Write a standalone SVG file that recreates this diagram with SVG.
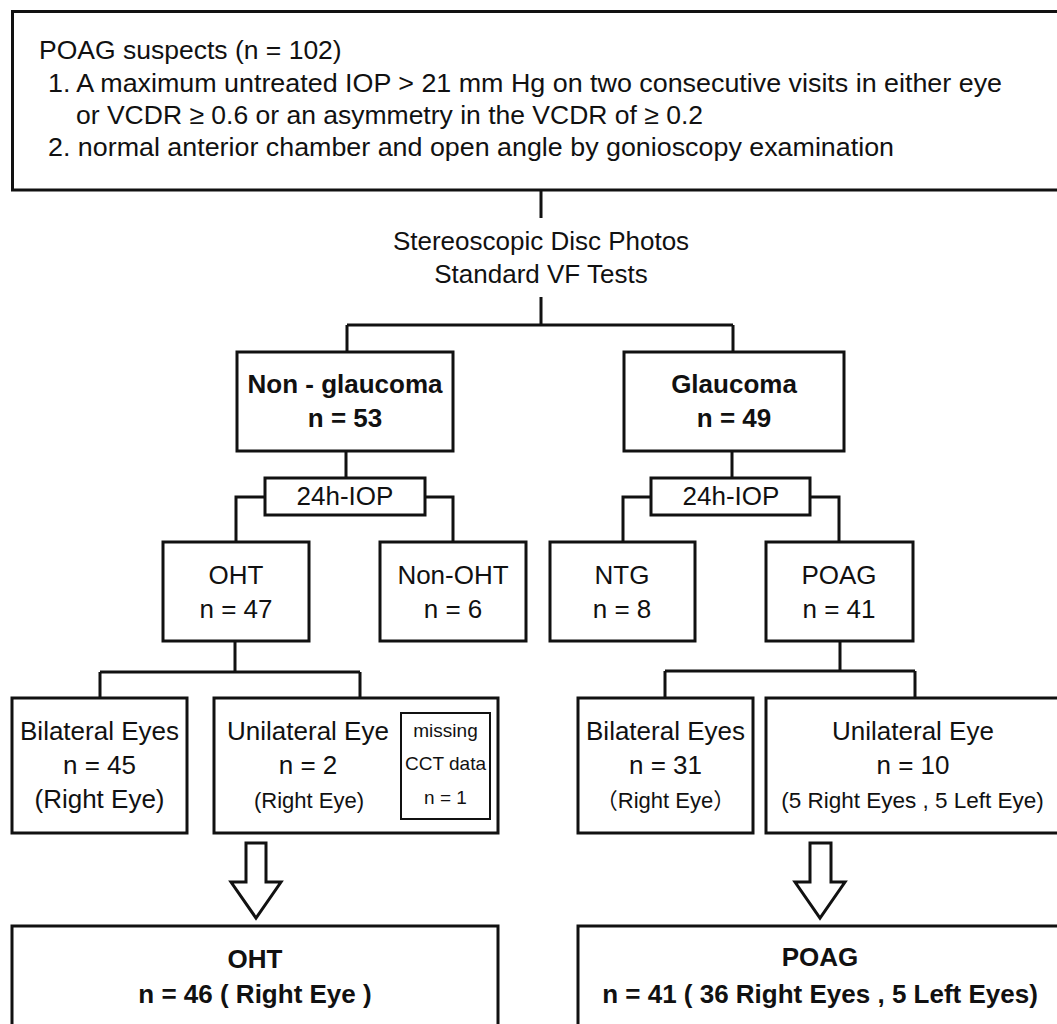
<svg xmlns="http://www.w3.org/2000/svg" width="1057" height="1024" viewBox="0 0 1057 1024">
<style>
.box{fill:#fff;stroke:#111;stroke-width:3}
.thin{fill:#fff;stroke:#111;stroke-width:2}
.con{fill:none;stroke:#111;stroke-width:3}
.arr{fill:#fff;stroke:#111;stroke-width:3;stroke-linejoin:miter}
text{font-family:"Liberation Sans",Arial,"Noto Sans CJK SC",sans-serif;fill:#111}
.t{font-size:26px;text-anchor:middle}
.b{font-size:26px;text-anchor:middle;font-weight:bold}
.s{font-size:22px;text-anchor:middle}
.xs{font-size:19px;text-anchor:middle}
.top{font-size:26.5px}
</style>
<rect width="1057" height="1024" fill="#fff"/>
<g id="connectors">
<path class="con" d="M541,190V218M541,297V325M347,325H733M347,325V352M733,325V352"/>
<path class="con" d="M346,451V478M732,451V478"/>
<path class="con" d="M265,497H236V542M425,497H453V542M651,497H623V542M810,497H839V542"/>
<path class="con" d="M235,641V672M100,672H360M100,672V698M360,672V698"/>
<path class="con" d="M840,641V671M665,671H915M665,671V698M915,671V698"/>
<polygon class="arr" points="246,843 266,843 266,882 281,882 256,918 231,882 246,882"/>
<polygon class="arr" points="810,843 831,843 831,882 845,882 820,918 795,882 810,882"/>
</g>
<g id="suspects">
<rect class="box" x="12.5" y="11.5" width="1050" height="178.5"/>
<text class="top" x="39" y="59">POAG suspects (n = 102)</text>
<text class="top" x="48" y="92" textLength="954" lengthAdjust="spacingAndGlyphs">1. A maximum untreated IOP &gt; 21 mm Hg on two consecutive visits in either eye</text>
<text class="top" x="76" y="124">or VCDR ≥ 0.6 or an asymmetry in the VCDR of ≥ 0.2</text>
<text class="top" x="48" y="156" textLength="846" lengthAdjust="spacingAndGlyphs">2. normal anterior chamber and open angle by gonioscopy examination</text>
</g>
<g id="tests">
<text class="t" x="541" y="250">Stereoscopic Disc Photos</text>
<text class="t" x="541" y="283">Standard VF Tests</text>
</g>
<g id="nonglaucoma">
<rect class="box" x="237" y="352" width="216" height="99"/>
<text class="b" x="345" y="393">Non - glaucoma</text>
<text class="b" x="345" y="427">n = 53</text>
</g>
<g id="glaucoma">
<rect class="box" x="624" y="352" width="220" height="99"/>
<text class="b" x="734" y="393">Glaucoma</text>
<text class="b" x="734" y="427">n = 49</text>
</g>
<g id="iop1">
<rect class="box" x="265" y="478" width="160" height="37"/>
<text class="t" x="345" y="505">24h-IOP</text>
</g>
<g id="iop2">
<rect class="box" x="651" y="478" width="159" height="37"/>
<text class="t" x="731" y="505">24h-IOP</text>
</g>
<g id="oht">
<rect class="box" x="163" y="542" width="146" height="99"/>
<text class="t" x="236" y="584">OHT</text>
<text class="t" x="236" y="618">n = 47</text>
</g>
<g id="nonoht">
<rect class="box" x="380" y="542" width="146" height="99"/>
<text class="t" x="453" y="584">Non-OHT</text>
<text class="t" x="453" y="618">n = 6</text>
</g>
<g id="ntg">
<rect class="box" x="550" y="542" width="145" height="99"/>
<text class="t" x="622" y="584">NTG</text>
<text class="t" x="622" y="618">n = 8</text>
</g>
<g id="poag">
<rect class="box" x="766" y="542" width="147" height="99"/>
<text class="t" x="839" y="584">POAG</text>
<text class="t" x="839" y="618">n = 41</text>
</g>
<g id="bilateral1">
<rect class="box" x="12" y="698" width="175" height="135"/>
<text class="t" x="99.5" y="740">Bilateral Eyes</text>
<text class="t" x="99.5" y="774">n = 45</text>
<text class="t" x="99.5" y="808">(Right Eye)</text>
</g>
<g id="unilateral1">
<rect class="box" x="214" y="698" width="284" height="135"/>
<text class="t" x="308" y="740">Unilateral Eye</text>
<text class="t" x="308" y="774">n = 2</text>
<text class="s" x="309" y="808">(Right Eye)</text>
</g>
<g id="missing">
<rect class="thin" x="401" y="713" width="89" height="106"/>
<text class="xs" x="445.5" y="737">missing</text>
<text class="xs" x="445.5" y="770">CCT data</text>
<text class="xs" x="445.5" y="804">n = 1</text>
</g>
<g id="bilateral2">
<rect class="box" x="578" y="698" width="175" height="135"/>
<text class="t" x="665.5" y="740">Bilateral Eyes</text>
<text class="t" x="665.5" y="774">n = 31</text>
<text class="s" x="665.5" y="808">（Right Eye）</text>
</g>
<g id="unilateral2">
<rect class="box" x="766" y="698" width="300" height="135"/>
<text class="t" x="913" y="740">Unilateral Eye</text>
<text class="t" x="913" y="774">n = 10</text>
<text class="s" x="912.5" y="808" style="font-size:22.5px">(5 Right Eyes , 5 Left Eye)</text>
</g>
<g id="final-oht">
<rect class="box" x="12" y="926" width="486" height="120"/>
<text class="b" x="255" y="968">OHT</text>
<text class="b" x="255" y="1003">n = 46 ( Right Eye )</text>
</g>
<g id="final-poag">
<rect class="box" x="578" y="926" width="490" height="120"/>
<text class="b" x="820" y="966">POAG</text>
<text class="b" x="820" y="1003">n = 41 ( 36 Right Eyes , 5 Left Eyes)</text>
</g>
</svg>
